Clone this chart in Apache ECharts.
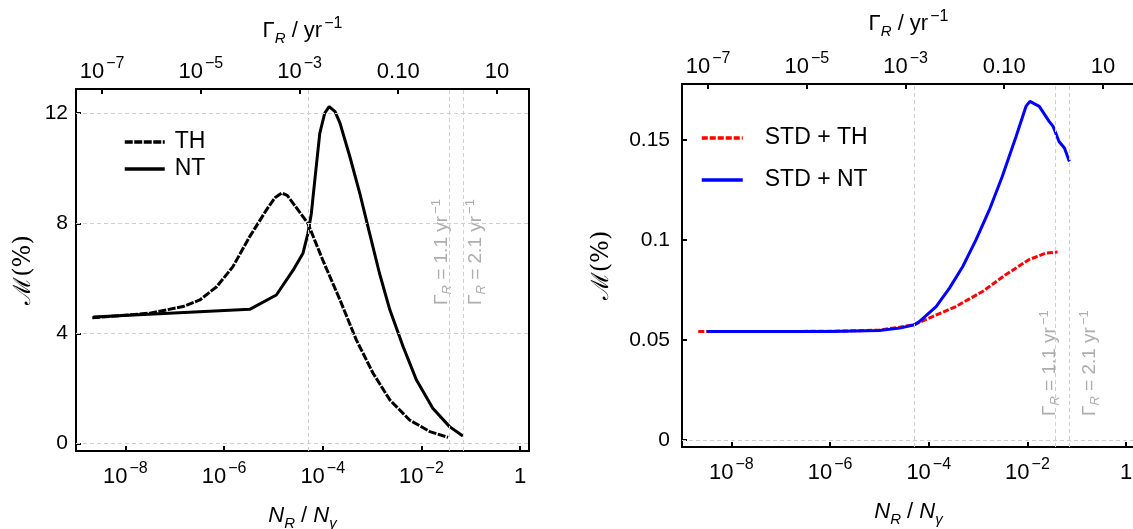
<!DOCTYPE html>
<html>
<head>
<meta charset="utf-8">
<script src="https://cdn.jsdelivr.net/npm/echarts@6/dist/echarts.min.js"></script>
<style>
  html, body { margin: 0; padding: 0; background: #fff; }
  #chart { width: 1133px; height: 529px; }
</style>
</head>
<body>
<div id="chart"></div>
<script>
// x values are log10(N_R / N_gamma); top axis is log10(Gamma_R / yr^-1)
const GAMMA_SHIFT = 1.47;          // log10(Gamma_R) - log10(N_R/N_gamma)
const gammaMarks = [1.1, 2.1];     // yr^-1, dashed reference lines
const extraGridX = [-4.3];

// left panel
const thX = [-8.67, -7.5, -6.83, -6.49, -6.15, -5.82, -5.48, -5.14, -4.97, -4.83, -4.72, -4.6, -4.3, -4.0, -3.65, -3.32, -2.98, -2.64, -2.24, -1.83, -1.46];
const thY = [4.57, 4.74, 4.98, 5.22, 5.7, 6.43, 7.52, 8.49, 8.93, 9.1, 9.02, 8.73, 8.0, 6.67, 5.22, 3.77, 2.56, 1.59, 0.86, 0.44, 0.23];
const ntX = [-8.65, -5.48, -4.94, -4.6, -4.4, -4.3, -4.23, -4.16, -4.06, -3.96, -3.87, -3.75, -3.65, -3.45, -3.25, -3.05, -2.85, -2.64, -2.37, -2.1, -1.77, -1.43, -1.16];
const ntY = [4.6, 4.88, 5.4, 6.3, 6.92, 7.64, 8.37, 9.58, 11.27, 12.0, 12.24, 12.06, 11.64, 10.42, 9.1, 7.64, 6.19, 4.86, 3.52, 2.31, 1.29, 0.62, 0.28];

// right panel
const redX = [-8.67, -6.0, -5.0, -4.59, -4.29, -3.92, -3.45, -2.91, -2.44, -1.97, -1.63, -1.39];
const redY = [0.0543, 0.0544, 0.055, 0.0565, 0.0577, 0.0618, 0.0668, 0.0743, 0.0827, 0.0902, 0.0935, 0.094];
const blueX = [-8.5, -6.0, -5.0, -4.59, -4.29, -4.19, -3.85, -3.58, -3.31, -3.04, -2.77, -2.51, -2.23, -2.03, -1.95, -1.76, -1.56, -1.48, -1.36, -1.25, -1.15];
const blueY = [0.0543, 0.0543, 0.0548, 0.056, 0.0577, 0.0593, 0.0668, 0.076, 0.0868, 0.1002, 0.1152, 0.1318, 0.1518, 0.1668, 0.1693, 0.1668, 0.1593, 0.1568, 0.1493, 0.146, 0.1393];

// ticks
const bottomTicks = [-8, -6, -4, -2, 0];
const bottomLabels = ['10^−8', '10^−6', '10^−4', '10^−2', '1'];
const topTicks = [-7, -5, -3, -1, 1];
const topLabels = ['10^−7', '10^−5', '10^−3', '0.10', '10'];
const leftYTicks = [0, 4, 8, 12];
const leftYLabels = ['0', '4', '8', '12'];
const rightYTicks = [0, 0.05, 0.1, 0.15];
const rightYLabels = ['0', '0.05', '0.1', '0.15'];
const leftHGrid = [0, 4, 8, 12];
const rightHGrid = [0];

const FONT = 'Liberation Sans, Arial, sans-serif';
const pts = (xs, ys) => xs.map((x, i) => [x, ys[i]]);
const gammaX = gammaMarks.map(g => Math.log10(g) - GAMMA_SHIFT);

function powLabel(s) {
  const [b, e] = s.split('^');
  return e ? `{b|${b}}{s|${e}}` : `{b|${s}}`;
}
function labelFrom(ticks, labels) {
  return v => {
    const i = ticks.findIndex(t => Math.abs(t - v) < 1e-9);
    return i < 0 ? '' : powLabel(labels[i]);
  };
}
const tickRich = {
  b: { fontSize: 22, fontFamily: FONT, color: '#000', lineHeight: 32 },
  s: { fontSize: 16, fontFamily: FONT, color: '#000', lineHeight: 15, verticalAlign: 'top', padding: [0, 0, 0, 2] }
};
const nameRich = {
  i: { fontSize: 22, fontFamily: FONT, fontStyle: 'italic', color: '#000', lineHeight: 30 },
  t: { fontSize: 22, fontFamily: FONT, color: '#000', lineHeight: 30 },
  sub: { fontSize: 15, fontFamily: FONT, fontStyle: 'italic', color: '#000', lineHeight: 15, verticalAlign: 'bottom' },
  sup: { fontSize: 16, fontFamily: FONT, color: '#000', lineHeight: 15, verticalAlign: 'top', padding: [0, 0, 0, 2] }
};
const annRich = {
  g: { fontSize: 19, fontFamily: FONT, color: '#999', lineHeight: 24 },
  r: { fontSize: 13, fontFamily: FONT, fontStyle: 'italic', color: '#999', lineHeight: 12, verticalAlign: 'bottom' },
  e: { fontSize: 13, fontFamily: FONT, color: '#999', lineHeight: 12, verticalAlign: 'top', padding: [0, 0, 0, 2] }
};

const axisLine = { show: true, onZero: false, lineStyle: { color: '#000', width: 2 } };
const tick = vals => ({ show: true, inside: true, length: 5, customValues: vals, lineStyle: { color: '#000', width: 2 } });

function bottomAxis(gi, min, max) {
  return {
    type: 'value', gridIndex: gi, position: 'bottom', min, max,
    axisLine, axisTick: tick(bottomTicks), splitLine: { show: false },
    axisLabel: { customValues: bottomTicks, formatter: labelFrom(bottomTicks, bottomLabels), rich: tickRich, margin: 10 },
    name: '{i|N}{sub|R}{t| / }{i|N}{sub|γ}', nameLocation: 'middle', nameGap: 50,
    nameTextStyle: { rich: nameRich }
  };
}
function topAxis(gi, min, max, gap) {
  return {
    type: 'value', gridIndex: gi, position: 'top', min: min + GAMMA_SHIFT, max: max + GAMMA_SHIFT,
    axisLine, axisTick: tick(topTicks), splitLine: { show: false },
    axisLabel: { customValues: topTicks, formatter: labelFrom(topTicks, topLabels), rich: tickRich, margin: 1 },
    name: '{t|Γ}{sub|R}{t| / yr}{sup|−1}', nameLocation: 'middle', nameGap: gap,
    nameTextStyle: { rich: nameRich }
  };
}
function yAxis(gi, min, max, ticks, labels, gap, margin) {
  return {
    type: 'value', gridIndex: gi, min, max,
    axisLine, axisTick: tick(ticks), splitLine: { show: false },
    axisLabel: { customValues: ticks, formatter: v => labels[ticks.findIndex(t => Math.abs(t - v) < 1e-9)] || '',
      fontSize: 21, fontFamily: FONT, color: '#000', margin },
    name: 'ℳ(%)', nameLocation: 'middle', nameGap: gap,
    nameTextStyle: { fontSize: 24, fontFamily: 'DejaVu Serif, serif', color: '#000' }
  };
}
function gridSeries(xi, yi, hGrid) {
  return {
    type: 'line', xAxisIndex: xi, yAxisIndex: yi, data: [], z: 1, silent: true,
    markLine: {
      silent: true, symbol: 'none', animation: false,
      label: { show: false },
      lineStyle: { color: '#cfcfcf', type: [4, 3], width: 1 },
      data: [...hGrid.map(v => ({ yAxis: v })), ...extraGridX.concat(gammaX).map(v => ({ xAxis: v }))]
    }
  };
}
function annSeries(xi, yi, yMid, offsets) {
  return {
    type: 'scatter', xAxisIndex: xi, yAxisIndex: yi, symbolSize: 0, silent: true, z: 2,
    data: gammaMarks.map((g, i) => ({
      value: [gammaX[i], yMid],
      label: {
        show: true, position: 'inside', rotate: 90, offset: [0, offsets[i]], rich: annRich,
        formatter: `{g|Γ}{r|R}{g| = ${g.toFixed(1)} yr}{e|−1}`
      }
    }))
  };
}
const curve = (name, xi, yi, xs, ys, color, dash) => ({
  name, type: 'line', xAxisIndex: xi, yAxisIndex: yi, data: pts(xs, ys),
  symbol: 'none', showSymbol: false, smooth: false, z: 3, animation: false,
  lineStyle: { color, width: 3, type: dash || 'solid' }, itemStyle: { color }
});
const legendBase = {
  orient: 'vertical', padding: 0, itemHeight: 14,
  itemStyle: { color: 'rgba(0,0,0,0)', borderWidth: 0, opacity: 0 },
  lineStyle: { width: 3.5 }
};
const gridBase = { show: true, borderColor: '#000', borderWidth: 2, backgroundColor: 'transparent', outerBoundsMode: 'none', containLabel: false };

const chart = echarts.init(document.getElementById('chart'));
chart.setOption({
  animation: false,
  backgroundColor: '#fff',
  grid: [
    Object.assign({ left: 76, top: 89, width: 453, height: 362 }, gridBase),
    Object.assign({ left: 682, top: 84, width: 453, height: 363 }, gridBase)
  ],
  legend: [
    Object.assign({}, legendBase, { data: ['TH', 'NT'], left: 123, top: 130, itemWidth: 40, itemGap: 3,
      textStyle: { fontSize: 23, fontFamily: FONT, color: '#000', lineHeight: 24, padding: [0, 0, 0, 5] } }),
    Object.assign({}, legendBase, { data: ['STD+TH', 'STD+NT'], left: 700, top: 126, itemWidth: 41, itemGap: 18,
      formatter: n => n.replace('+', ' + '),
      textStyle: { fontSize: 23, fontFamily: FONT, color: '#000', lineHeight: 24, padding: [0, 0, 0, 17] } })
  ],
  xAxis: [
    bottomAxis(0, -9, 0.18),
    topAxis(0, -9, 0.18, 43),
    bottomAxis(1, -9, 0.18),
    topAxis(1, -9, 0.18, 45)
  ],
  yAxis: [
    yAxis(0, -0.265, 12.88, leftYTicks, leftYLabels, 40, 8),
    yAxis(1, -0.0034, 0.178, rightYTicks, rightYLabels, 68, 12)
  ],
  series: [
    gridSeries(0, 0, leftHGrid),
    curve('TH', 0, 0, thX, thY, '#000', [8, 1.5]),
    curve('NT', 0, 0, ntX, ntY, '#000'),
    annSeries(0, 0, 6.96, [-8, 12]),
    gridSeries(2, 1, rightHGrid),
    curve('STD+TH', 2, 1, redX, redY, '#ff0000', [6, 2]),
    curve('STD+NT', 2, 1, blueX, blueY, '#0000ff'),
    annSeries(2, 1, 0.0385, [-6, 20])
  ]
});
</script>
</body>
</html>
